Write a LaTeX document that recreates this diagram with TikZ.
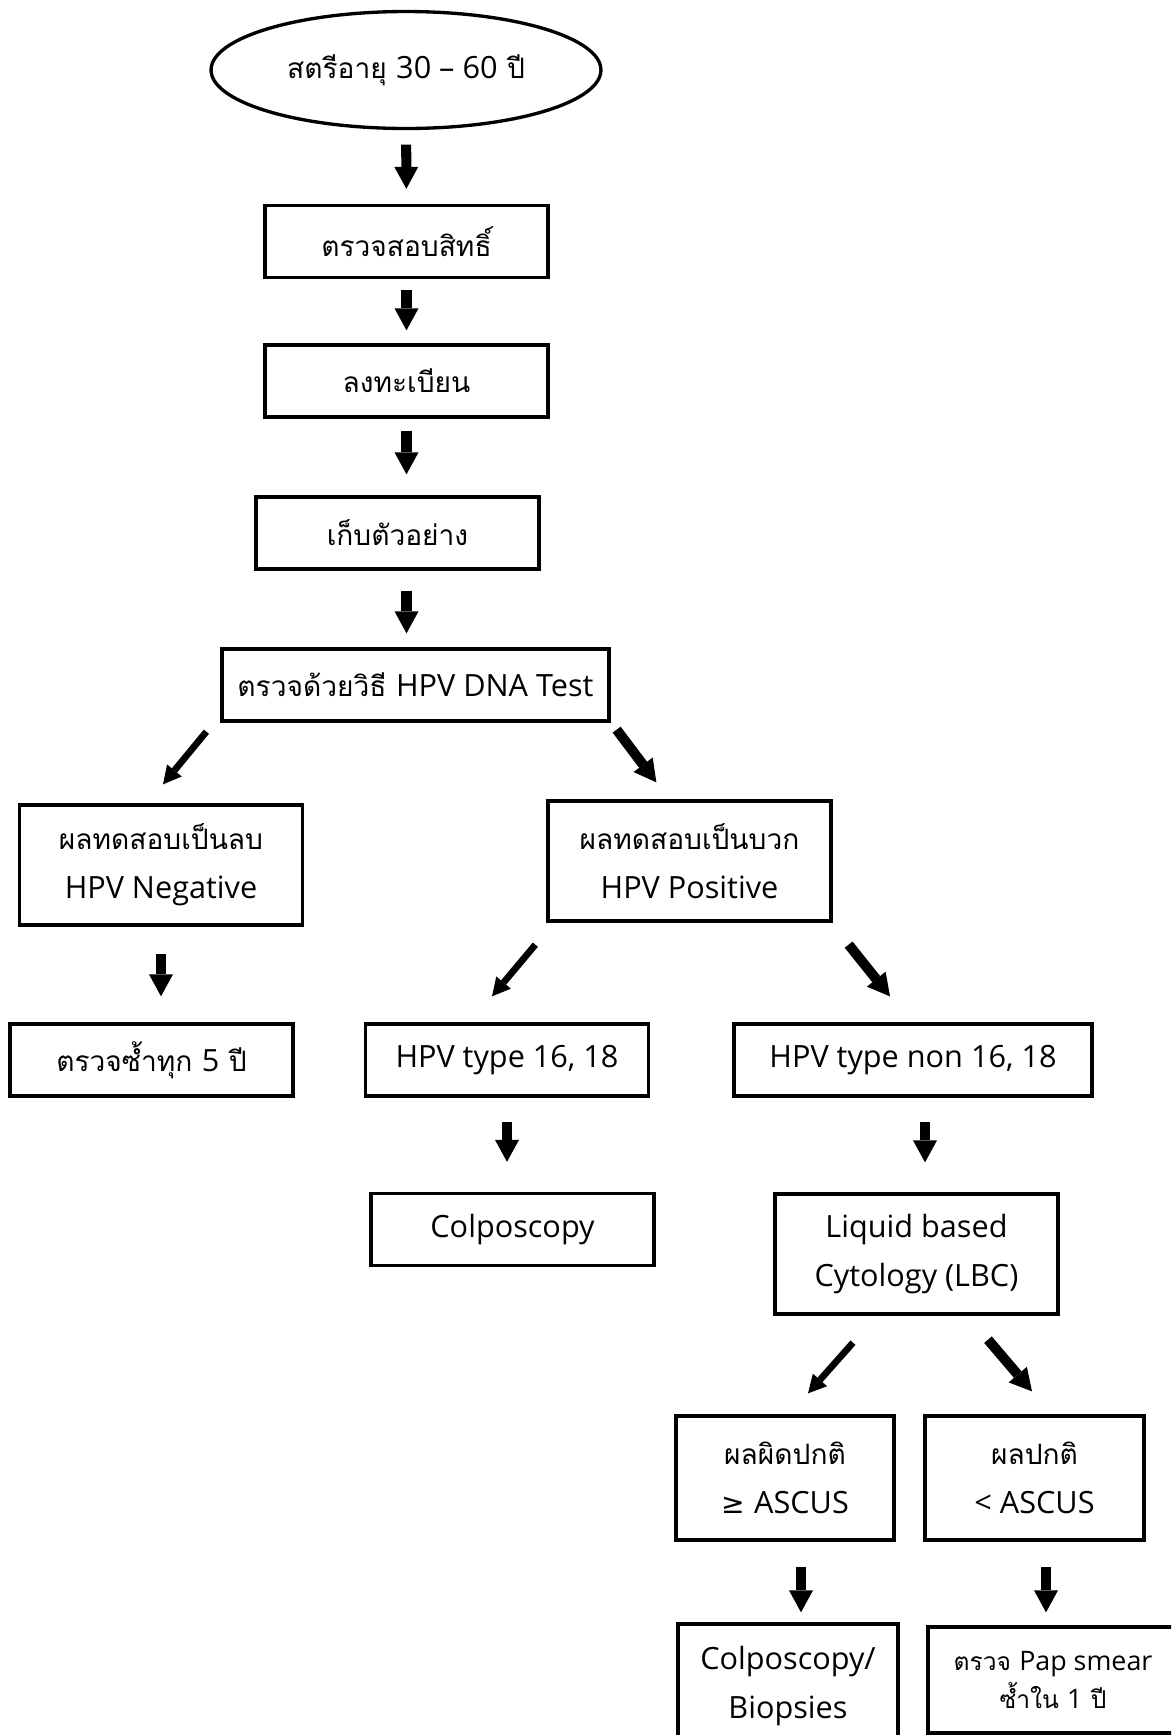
\documentclass[tikz,border=0pt]{standalone}
\usepackage{fontspec}
\usepackage{tikz}
\usetikzlibrary{
  arrows.meta,
  positioning,
  shapes.geometric,
  calc
}
\newfontfamily\thaifont[Script=Thai]{Loma}
\newfontfamily\latinfont[Scale=1.09]{Open Sans}
\newfontfamily\symfont{DejaVu Sans}
\newcommand\lat[1]{{\latinfont #1}}

\begin{document}
\begin{tikzpicture}[
  x=0.02cm, y=-0.02cm,
  flowbox/.style={
    rectangle, draw, line width=1.9pt,
    minimum width=5.66cm, minimum height=1.44cm,
    align=center, inner sep=0pt,
    font=\thaifont\fontsize{16}{28}\selectfont
  },
  latinbox/.style={
    flowbox, font=\latinfont\fontsize{16}{28}\selectfont
  },
  startnode/.style={
    ellipse, draw, line width=1.9pt,
    minimum width=7.8cm, minimum height=2.34cm,
    inner sep=0pt,
    font=\thaifont\fontsize{16}{28}\selectfont
  },
  bigarrow/.style={
    line width=5.7pt,
    -{Triangle[width=0.48cm, length=0.44cm, line width=0pt]}
  },
  thinarrow/.style={
    line width=3.8pt,
    -{Triangle[width=0.38cm, length=0.36cm, line width=0pt]}
  }
]
\useasboundingbox (0,0) rectangle (1171,1735);
\clip (0,0) rectangle (1171,1735);

% ---- Registration steps ----
\node[startnode] (start) at (406,70) {สตรีอายุ \lat{30 – 60} ปี};
\node[flowbox] (b2) at (406.5,241.5) {ตรวจสอบสิทธิ์};
\node[flowbox] (b3) at (406.5,381) {ลงทะเบียน};
\node[flowbox] (b4) at (397.5,533) {เก็บตัวอย่าง};
\node[flowbox, minimum width=7.74cm] (b5) at (415.5,685) {ตรวจด้วยวิธี \lat{HPV DNA Test}};

\draw[bigarrow, shorten <=0.29cm, shorten >=0.3cm] (start) -- (b2);
\draw[bigarrow, shorten <=0.21cm, shorten >=0.26cm] (b2) -- (b3);
\draw[bigarrow, shorten <=0.24cm, shorten >=0.42cm] (b3.south) -- (b3.south |- b4.north);
\draw[bigarrow, shorten <=0.4cm, shorten >=0.28cm] (b3.south |- b4.south) -- (b3.south |- b5.north);

% ---- Test result ----
\node[flowbox, minimum height=2.4cm] (b6) at (161,865) {ผลทดสอบเป็นลบ\\\lat{HPV Negative}};
\node[flowbox, minimum height=2.4cm] (b7) at (689.5,861) {ผลทดสอบเป็นบวก\\\lat{HPV Positive}};

\draw[thinarrow] ($(b5.south west)+(-14,9)$) -- ($(b6.north)+(2,-19)$);
\draw[bigarrow] ($(b5.south east)+(6,7)$) -- ($(b7.north west)+(110,-17)$);

% Negative branch
\node[flowbox] (b8) at (151.5,1060) {ตรวจซ้ำทุก \lat{5} ปี};
\draw[bigarrow, shorten <=0.54cm, shorten >=0.52cm] (b6.south) -- (b6.south |- b8.north);

% Positive branch
\node[latinbox] (b9) at (507,1060) {HPV type 16, 18};
\node[latinbox, minimum width=7.16cm] (b10) at (913,1060) {HPV type non 16, 18};

\draw[thinarrow] ($(b7.south west)+(-11,22)$) -- ($(b9.north)+(-15,-26)$);
\draw[bigarrow] ($(b7.south east)+(16,22)$) -- ($(b10.north)+(-23,-26)$);

\node[latinbox] (b11) at (512.5,1229.5) {Colposcopy};
\node[latinbox, minimum height=2.4cm] (b12) at (916.5,1254) {Liquid based\\Cytology (LBC)};

\draw[bigarrow, shorten <=0.48cm, shorten >=0.6cm] (b9.south) -- (b9.south |- b11.north);
\coordinate (c10) at ($(b10.south)+(12,0)$);
\draw[bigarrow, shorten <=0.48cm, shorten >=0.6cm] (c10) -- (c10 |- b12.north);

% ---- LBC result ----
\node[flowbox, minimum width=4.36cm, minimum height=2.48cm] (b13) at (785,1478)
  {ผลผิดปกติ\\{\symfont ≥} \lat{ASCUS}};
\node[flowbox, minimum width=4.38cm, minimum height=2.48cm] (b14) at (1034.5,1478)
  {ผลปกติ\\\lat{< ASCUS}};

\draw[thinarrow] ($(b12.south)+(-63.5,27)$) -- ($(b13.north)+(23,-21)$);
\draw[bigarrow] ($(b12.south)+(71.5,24)$) -- ($(b14.north)+(-2.5,-23)$);

\node[latinbox, minimum width=4.4cm, minimum height=2.48cm] (b15) at (788,1686)
  {Colposcopy/\\Biopsies};
\node[flowbox, minimum width=5cm, minimum height=2.12cm,
  font=\thaifont\fontsize{14}{22}\selectfont] (b16) at (1053,1680)
  {ตรวจ \lat{Pap smear}\\ซ้ำใน \lat{1} ปี};

\coordinate (c13) at ($(b13.south)+(16,0)$);
\coordinate (c14) at ($(b14.south)+(11.5,0)$);
\draw[bigarrow, shorten <=0.5cm, shorten >=0.2cm] (c13) -- (c13 |- b15.north);
\draw[bigarrow, shorten <=0.5cm, shorten >=0.26cm] (c14) -- (c14 |- b16.north);

\end{tikzpicture}
\end{document}
